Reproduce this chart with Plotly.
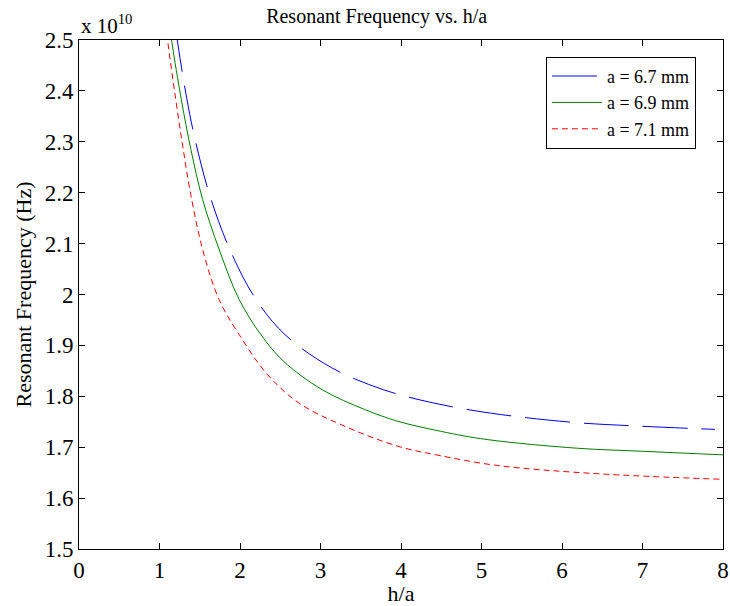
import plotly.graph_objects as go

# h/a values and resonant frequency (in units of 1e10 Hz)
x_67 = [1.10, 1.23, 1.34, 1.45, 1.64, 1.90, 2.20, 2.56, 3.14, 3.78, 4.40, 5.11, 6.12, 6.88, 7.90]
f_67 = [2.64, 2.49, 2.384, 2.299, 2.187, 2.079, 1.990, 1.921, 1.856, 1.813, 1.787, 1.767, 1.749, 1.742, 1.735]

x_69 = [1.00, 1.15, 1.27, 1.39, 1.535, 1.74, 1.99, 2.26, 2.54, 3.02, 3.55, 3.96, 4.50, 5.07, 6.19, 7.00, 8.00]
f_69 = [2.68, 2.50, 2.384, 2.285, 2.187, 2.089, 1.990, 1.921, 1.869, 1.813, 1.774, 1.751, 1.731, 1.715, 1.698, 1.692, 1.685]

x_71 = [1.00, 1.10, 1.20, 1.29, 1.39, 1.535, 1.74, 1.99, 2.34, 2.73, 3.26, 3.96, 4.50, 5.20, 6.43, 7.98]
f_71 = [2.63, 2.50, 2.385, 2.29, 2.195, 2.089, 1.990, 1.921, 1.843, 1.787, 1.744, 1.702, 1.683, 1.664, 1.648, 1.637]

series_names = ["a = 6.7 mm", "a = 6.9 mm", "a = 7.1 mm"]

x_ticks = [0, 1, 2, 3, 4, 5, 6, 7, 8]
y_ticks = [1.5, 1.6, 1.7, 1.8, 1.9, 2.0, 2.1, 2.2, 2.3, 2.4, 2.5]
y_ticktext = ["1.5", "1.6", "1.7", "1.8", "1.9", "2", "2.1", "2.2", "2.3", "2.4", "2.5"]

FONT = "Liberation Serif, Times New Roman, serif"

fig = go.Figure()
fig.add_trace(go.Scatter(x=x_67, y=f_67, mode="lines", name=series_names[0],
                         line=dict(color="#0000ff", width=1, dash="45px,14px", shape="spline", smoothing=1.0)))
fig.add_trace(go.Scatter(x=x_69, y=f_69, mode="lines", name=series_names[1],
                         line=dict(color="#008000", width=1, shape="spline", smoothing=1.0)))
fig.add_trace(go.Scatter(x=x_71, y=f_71, mode="lines", name=series_names[2],
                         line=dict(color="#ff0000", width=1, dash="6px,4px", shape="spline", smoothing=1.0)))

axis_common = dict(showline=True, linecolor="black", linewidth=1, mirror="ticks",
                   ticks="inside", ticklen=6, tickwidth=1, tickcolor="black",
                   showgrid=False, zeroline=False, ticklabeloverflow="allow", automargin=False,
                   tickfont=dict(family=FONT, size=23, color="black"))

fig.update_xaxes(range=[0, 8], tickvals=x_ticks, **axis_common,
                 title=dict(text="h/a", font=dict(family=FONT, size=22, color="black"), standoff=4))
fig.update_yaxes(range=[1.5, 2.5], tickvals=y_ticks, ticktext=y_ticktext, **axis_common,
                 title=dict(text="Resonant Frequency (Hz)", font=dict(family=FONT, size=22, color="black"), standoff=6))

fig.add_annotation(x=0, y=1, xref="paper", yref="paper", xanchor="left", yanchor="bottom",
                   text="x 10<sup>10</sup>", showarrow=False, xshift=0, yshift=0,
                   font=dict(family=FONT, size=21, color="black"))

fig.update_layout(
    width=730, height=606,
    margin=dict(l=79, r=7, t=40, b=57),
    paper_bgcolor="white", plot_bgcolor="white",
    title=dict(text="Resonant Frequency vs. h/a", x=0.516, xanchor="center", y=0.985, yanchor="top",
               font=dict(family=FONT, size=20, color="black")),
    legend=dict(x=0.725, y=0.967, xanchor="left", yanchor="top",
                bordercolor="black", borderwidth=1, bgcolor="white", itemwidth=50,
                font=dict(family=FONT, size=18, color="black")),
    showlegend=True,
)

fig.write_html("out.html")
